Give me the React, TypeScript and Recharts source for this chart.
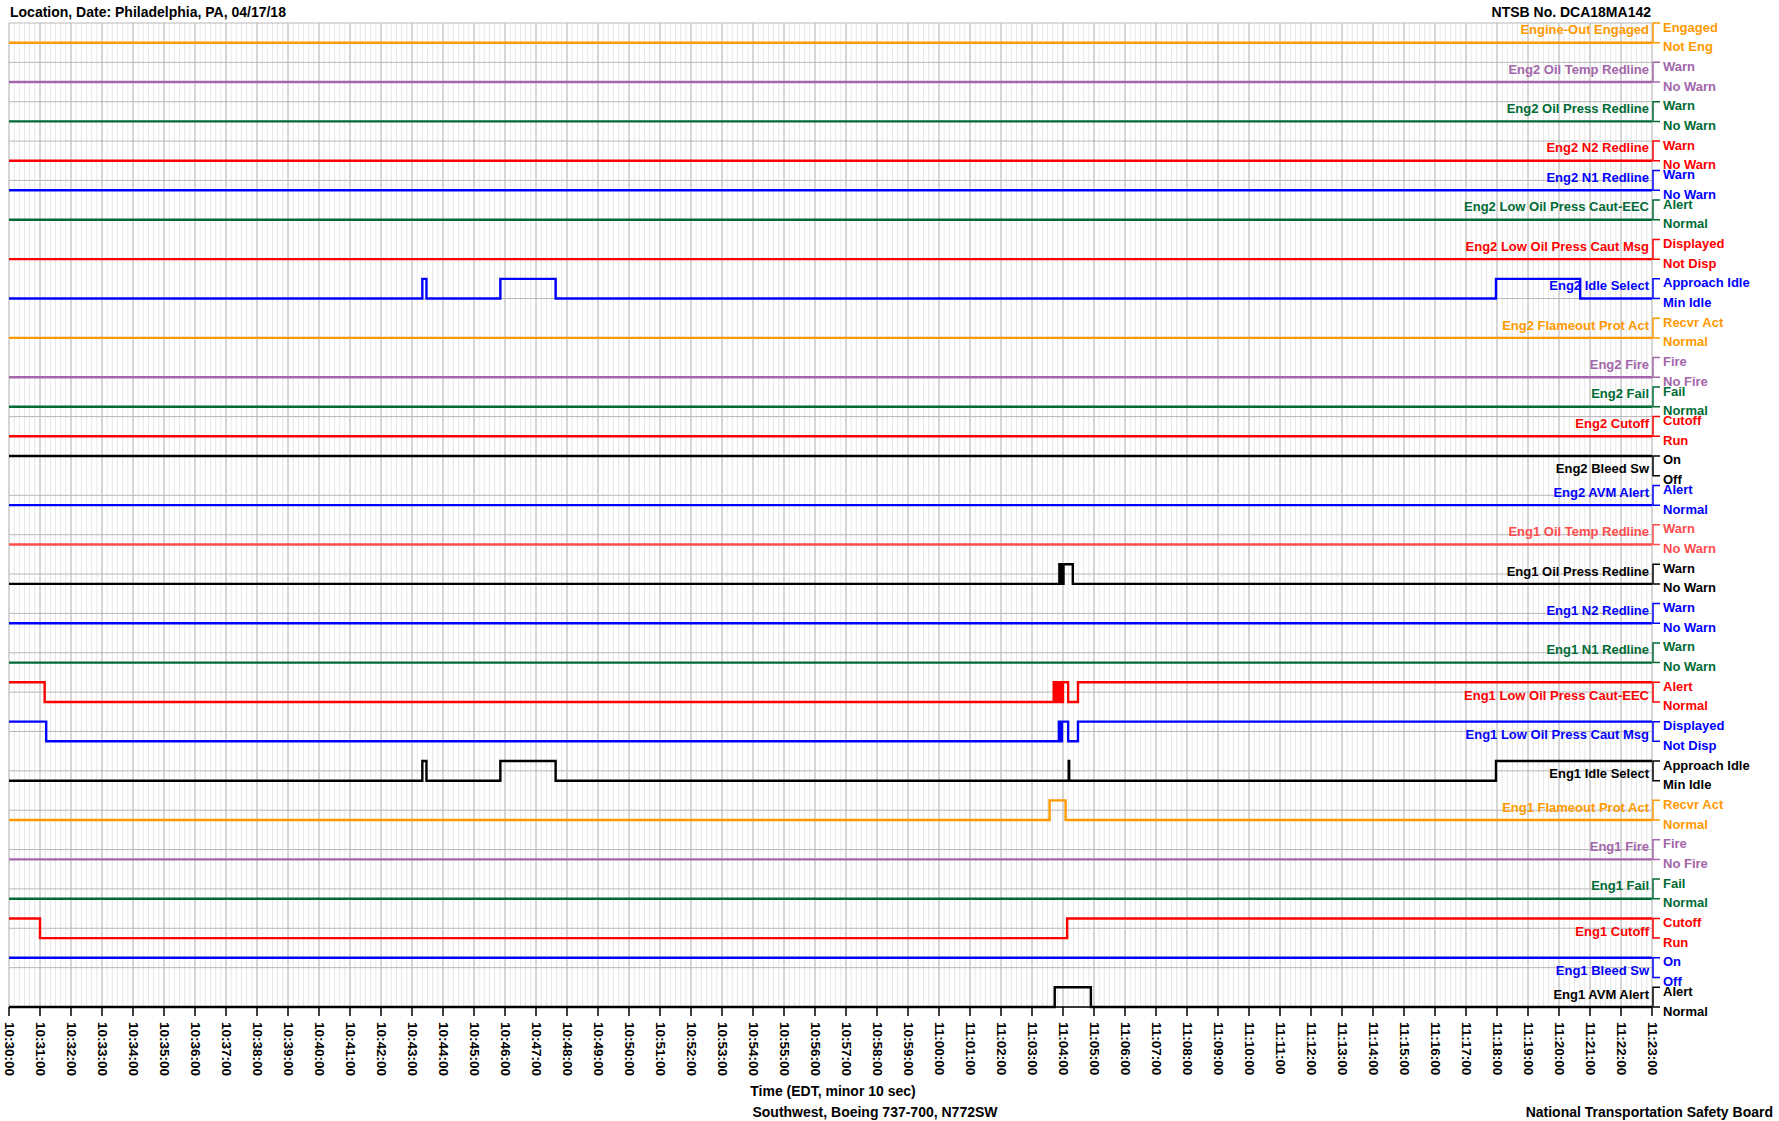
import { LineChart, Line, XAxis, YAxis, CartesianGrid } from "recharts";

const FONT = "'Liberation Sans', Arial, sans-serif";
const CHART_W = 1779;
const CHART_H = 1121;
const PLOT_TOP = 23;
const PLOT_BOTTOM = 1007;
const Y_UNITS = 25;
const PX_PER_UNIT = (PLOT_BOTTOM - PLOT_TOP) / Y_UNITS;

// time runs in seconds after 10:30:00 EDT
const START_SEC = 10 * 3600 + 30 * 60;
const END_OFFSET = 3180;

const ORANGE = "#ff9900";
const PURPLE = "#a366aa";
const GREEN = "#006b35";
const RED = "#ff0000";
const LIGHT_RED = "#ff4d4d";
const BLUE = "#0000ff";
const BLACK = "#000000";

const TRACK_NAMES = [
  "Engine-Out Engaged",
  "Eng2 Oil Temp Redline",
  "Eng2 Oil Press Redline",
  "Eng2 N2 Redline",
  "Eng2 N1 Redline",
  "Eng2 Low Oil Press Caut-EEC",
  "Eng2 Low Oil Press Caut Msg",
  "Eng2 Idle Select",
  "Eng2 Flameout Prot Act",
  "Eng2 Fire",
  "Eng2 Fail",
  "Eng2 Cutoff",
  "Eng2 Bleed Sw",
  "Eng2 AVM Alert",
  "Eng1 Oil Temp Redline",
  "Eng1 Oil Press Redline",
  "Eng1 N2 Redline",
  "Eng1 N1 Redline",
  "Eng1 Low Oil Press Caut-EEC",
  "Eng1 Low Oil Press Caut Msg",
  "Eng1 Idle Select",
  "Eng1 Flameout Prot Act",
  "Eng1 Fire",
  "Eng1 Fail",
  "Eng1 Cutoff",
  "Eng1 Bleed Sw",
  "Eng1 AVM Alert",
];

const TRACK_COLORS = [
  ORANGE, PURPLE, GREEN, RED, BLUE, GREEN, RED, BLUE, ORANGE, PURPLE, GREEN, RED, BLACK, BLUE,
  LIGHT_RED, BLACK, BLUE, GREEN, RED, BLUE, BLACK, ORANGE, PURPLE, GREEN, RED, BLUE, BLACK,
];

const HIGH_LABELS = [
  "Engaged", "Warn", "Warn", "Warn", "Warn", "Alert", "Displayed", "Approach Idle", "Recvr Act",
  "Fire", "Fail", "Cutoff", "On", "Alert", "Warn", "Warn", "Warn", "Warn", "Alert", "Displayed",
  "Approach Idle", "Recvr Act", "Fire", "Fail", "Cutoff", "On", "Alert",
];

const LOW_LABELS = [
  "Not Eng", "No Warn", "No Warn", "No Warn", "No Warn", "Normal", "Not Disp", "Min Idle", "Normal",
  "No Fire", "Normal", "Run", "Off", "Normal", "No Warn", "No Warn", "No Warn", "No Warn", "Normal",
  "Not Disp", "Min Idle", "Normal", "No Fire", "Normal", "Run", "Off", "Normal",
];

// low-state level of each track on the 0..25 stacking scale (high = low + 0.5)
const TRACK_BASE = [
  24.5, 23.5, 22.5, 21.5, 20.75, 20, 19, 18, 17, 16, 15.25, 14.5, 13.5, 12.75,
  11.75, 10.75, 9.75, 8.75, 7.75, 6.75, 5.75, 4.75, 3.75, 2.75, 1.75, 0.75, 0,
];

// state changes: [seconds after 10:30:00, 0 = low state / 1 = high state]
const STEADY_LOW = [[0, 0]];
const STEADY_HIGH = [[0, 1]];
const ENG2_IDLE = [[0, 0], [800, 1], [808, 0], [951, 1], [1058, 0], [2878, 1], [3041, 0]];
const ENG1_OIL_PRESS = [
  [0, 0], [2033, 1], [2034, 0], [2035, 1], [2036, 0], [2037, 1], [2038, 0], [2039, 1], [2040, 0],
  [2041, 1], [2059, 0],
];
const ENG1_LOW_OIL_EEC = [
  [0, 1], [69, 0], [2022, 1], [2023, 0], [2024, 1], [2025, 0], [2026, 1], [2027, 0], [2028, 1],
  [2029, 0], [2030, 1], [2031, 0], [2032, 1], [2033, 0], [2034, 1], [2035, 0], [2036, 1], [2037, 0],
  [2038, 1], [2039, 0], [2040, 1], [2050, 0], [2069, 1],
];
const ENG1_LOW_OIL_MSG = [[0, 1], [72, 0], [2032, 1], [2035, 0], [2038, 1], [2050, 0], [2069, 1]];
const ENG1_IDLE = [[0, 0], [800, 1], [808, 0], [951, 1], [1058, 0], [2051, 1], [2052, 0], [2878, 1]];
const ENG1_FLAMEOUT = [[0, 0], [2014, 1], [2045, 0]];
const ENG1_CUTOFF = [[0, 1], [60, 0], [2048, 1]];
const ENG1_AVM = [[0, 0], [2024, 1], [2094, 0]];

const TRACK_EVENTS = [
  STEADY_LOW, STEADY_LOW, STEADY_LOW, STEADY_LOW, STEADY_LOW, STEADY_LOW, STEADY_LOW, ENG2_IDLE,
  STEADY_LOW, STEADY_LOW, STEADY_LOW, STEADY_LOW, STEADY_HIGH, STEADY_LOW,
  STEADY_LOW, ENG1_OIL_PRESS, STEADY_LOW, STEADY_LOW, ENG1_LOW_OIL_EEC, ENG1_LOW_OIL_MSG, ENG1_IDLE,
  ENG1_FLAMEOUT, STEADY_LOW, STEADY_LOW, ENG1_CUTOFF, STEADY_HIGH, ENG1_AVM,
];

const MINOR_TICKS = Array.from({ length: END_OFFSET / 10 + 1 }, (_, i) => i * 10);
const MAJOR_TICKS = Array.from({ length: END_OFFSET / 60 + 1 }, (_, i) => i * 60);
const GRID_Y_TICKS = Array.from({ length: Y_UNITS + 1 }, (_, i) => i);
const HIGH_TICKS = TRACK_BASE.map((b) => b + 0.5);

const pad = (n: number) => String(n).padStart(2, "0");
function clock(offset: number) {
  const s = START_SEC + offset;
  return `${pad(Math.floor(s / 3600))}:${pad(Math.floor((s % 3600) / 60))}:${pad(s % 60)}`;
}

const lastState = (i: number) => TRACK_EVENTS[i][TRACK_EVENTS[i].length - 1][1];

function trackData(i: number) {
  const pts = TRACK_EVENTS[i].map(([t, s]) => ({ t, y: TRACK_BASE[i] + s * 0.5 }));
  pts.push({ t: END_OFFSET, y: TRACK_BASE[i] + lastState(i) * 0.5 });
  return pts;
}

function NoTick() {
  return <g />;
}

function TimeTick(props: any) {
  const { x, y, payload } = props;
  return (
    <text
      x={x}
      y={y}
      transform={`rotate(90 ${x} ${y})`}
      textAnchor="start"
      dominantBaseline="central"
      fontSize={13.5}
      fontWeight="bold"
      fontFamily={FONT}
      fill="#000"
    >
      {clock(payload.value)}
    </text>
  );
}

function StateTick(props: any) {
  const { x, y, payload } = props;
  const i = HIGH_TICKS.indexOf(payload.value);
  if (i < 0) return null;
  const c = TRACK_COLORS[i];
  const h = PX_PER_UNIT * 0.5;
  // the name sits off the trace where it ends at the right edge
  const nameDy = lastState(i) ? 3 : -3;
  const txt = { fontSize: 13, fontWeight: "bold", fontFamily: FONT, fill: c, dominantBaseline: "central" } as any;
  return (
    <g>
      <path d={`M${x + 8},${y} H${x + 1} V${y + h} H${x + 8}`} stroke={c} strokeWidth={1.5} fill="none" />
      <text x={x + 11} y={y + 4} {...txt}>{HIGH_LABELS[i]}</text>
      <text x={x + 11} y={y + h + 4} {...txt}>{LOW_LABELS[i]}</text>
      <text x={x - 3} y={y + h / 2 + nameDy} textAnchor="end" {...txt}>{TRACK_NAMES[i]}</text>
    </g>
  );
}

const textStyle = { position: "absolute", fontSize: 14, fontWeight: "bold", lineHeight: "16px", whiteSpace: "nowrap", color: "#000" } as any;

export default function App() {
  return (
    <div style={{ position: "absolute", left: 0, top: 0, width: CHART_W, height: CHART_H, background: "#fff", fontFamily: FONT }}>
      <LineChart
        width={CHART_W}
        height={CHART_H}
        data={trackData(0)}
        margin={{ top: PLOT_TOP, right: 0, bottom: 0, left: 9 }}
      >
        <CartesianGrid xAxisId="minor" yAxisId="main" horizontal={false} stroke="#e7e7e7" strokeWidth={1} />
        <CartesianGrid xAxisId="major" yAxisId="main" stroke="#b8b8b8" strokeWidth={1} />
        <XAxis
          xAxisId="minor"
          dataKey="t"
          type="number"
          domain={[0, END_OFFSET]}
          ticks={MINOR_TICKS}
          interval={0}
          height={0}
          tick={<NoTick />}
          tickSize={5}
          axisLine={false}
          tickLine={{ stroke: "#000", strokeWidth: 1.2 }}
        />
        <XAxis
          xAxisId="major"
          dataKey="t"
          type="number"
          domain={[0, END_OFFSET]}
          ticks={MAJOR_TICKS}
          interval={0}
          height={CHART_H - PLOT_BOTTOM}
          tickSize={9}
          tickMargin={6}
          tick={<TimeTick />}
          axisLine={{ stroke: "#000", strokeWidth: 1.5 }}
          tickLine={{ stroke: "#000", strokeWidth: 1.5 }}
        />
        <YAxis
          yAxisId="main"
          type="number"
          domain={[0, Y_UNITS]}
          ticks={GRID_Y_TICKS}
          interval={0}
          width={0}
          tick={<NoTick />}
          tickLine={false}
          axisLine={false}
        />
        <YAxis
          yAxisId="state"
          orientation="right"
          type="number"
          domain={[0, Y_UNITS]}
          ticks={HIGH_TICKS}
          interval={0}
          width={CHART_W - 1652}
          tickSize={0}
          tickMargin={0}
          tickLine={false}
          axisLine={false}
          tick={<StateTick />}
        />
        {/* carrier series so the minor time axis and the state axis get scales */}
        <Line
          xAxisId="minor"
          yAxisId="state"
          data={trackData(0)}
          dataKey="y"
          stroke="transparent"
          strokeWidth={0}
          dot={false}
          activeDot={false}
          isAnimationActive={false}
        />
        {TRACK_NAMES.map((name, i) => (
          <Line
            key={name}
            xAxisId="major"
            yAxisId="main"
            data={trackData(i)}
            dataKey="y"
            type="stepAfter"
            stroke={TRACK_COLORS[i]}
            strokeWidth={2.4}
            dot={false}
            activeDot={false}
            isAnimationActive={false}
          />
        ))}
      </LineChart>
      <div style={{ ...textStyle, left: 10, top: 4 }}>Location, Date: Philadelphia, PA, 04/17/18</div>
      <div style={{ ...textStyle, right: 128, top: 4 }}>NTSB No. DCA18MA142</div>
      <div style={{ ...textStyle, left: 833, top: 1083, transform: "translateX(-50%)" }}>Time (EDT, minor 10 sec)</div>
      <div style={{ ...textStyle, left: 875, top: 1104, transform: "translateX(-50%)" }}>Southwest, Boeing 737-700, N772SW</div>
      <div style={{ ...textStyle, right: 6, top: 1104 }}>National Transportation Safety Board</div>
    </div>
  );
}
